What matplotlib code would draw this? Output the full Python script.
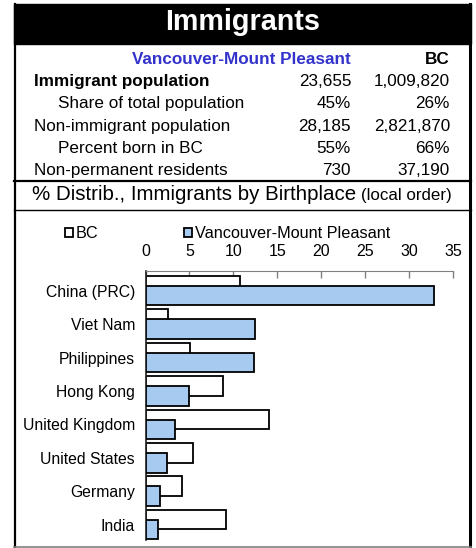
import matplotlib.pyplot as plt
from matplotlib.lines import Line2D
from matplotlib.patches import Rectangle

plt.rcParams['font.family'] = ['Liberation Sans', 'DejaVu Sans']

W, H = 476, 548

# table data
row_labels = ['Immigrant population', 'Share of total population',
              'Non-immigrant population', 'Percent born in BC',
              'Non-permanent residents']
local_vals = ['23,655', '45%', '28,185', '55%', '730']
bc_vals = ['1,009,820', '26%', '2,821,870', '66%', '37,190']
row_indent = [False, True, False, True, False]
row_bold = [True, False, False, False, False]

# chart data (% of immigrants, by birthplace)
countries = ['China (PRC)', 'Viet Nam', 'Philippines', 'Hong Kong',
             'United Kingdom', 'United States', 'Germany', 'India']
bc_pct = [10.7, 2.6, 5.1, 8.8, 14.0, 5.4, 4.1, 9.2]
local_pct = [32.8, 12.5, 12.4, 4.9, 3.4, 2.5, 1.7, 1.4]


def fx(px):
    return px / W


def fy(py):
    return 1 - py / H


fig = plt.figure(figsize=(W / 100, H / 100), dpi=100)

# frame and title bar
fig.patches.append(Rectangle((fx(14), fy(43.5)), fx(471) - fx(14), fy(4) - fy(43.5),
                             transform=fig.transFigure, color='black', zorder=0))
fig.lines.append(Line2D([fx(15), fx(15)], [fy(4), fy(547)], color='black', lw=1.6,
                        transform=fig.transFigure))
fig.lines.append(Line2D([fx(470), fx(470)], [fy(4), fy(547)], color='black', lw=2.2,
                        transform=fig.transFigure))
fig.lines.append(Line2D([fx(14), fx(471)], [fy(180.5), fy(180.5)], color='black', lw=1.6,
                        transform=fig.transFigure))
fig.lines.append(Line2D([fx(14), fx(471)], [fy(209.5), fy(209.5)], color='black', lw=1.0,
                        transform=fig.transFigure))
fig.lines.append(Line2D([fx(14), fx(471)], [fy(546.5), fy(546.5)], color='#808080', lw=1.2,
                        transform=fig.transFigure))

fig.text(fx(243), fy(30), 'Immigrants', color='white', fontsize=20.7,
         fontweight='bold', ha='center', va='baseline')

# table
fig.text(fx(351), fy(63.5), 'Vancouver-Mount Pleasant', color='#3333CC',
         fontsize=12.3, fontweight='bold', ha='right', va='baseline')
fig.text(fx(450), fy(63.5), 'BC', fontsize=12.3, fontweight='bold',
         ha='right', va='baseline')
for i, lab in enumerate(row_labels):
    yb = 86 + i * 22.3
    fig.text(fx(58 if row_indent[i] else 34), fy(yb), lab, fontsize=12.3,
             fontweight='bold' if row_bold[i] else 'normal', va='baseline')
    fig.text(fx(351), fy(yb), local_vals[i], fontsize=12.3, ha='right', va='baseline')
    fig.text(fx(450), fy(yb), bc_vals[i], fontsize=12.3, ha='right', va='baseline')

fig.text(fx(31.5), fy(200), '% Distrib., Immigrants by Birthplace', fontsize=14.8,
         va='baseline')
fig.text(fx(451.5), fy(200), '(local order)', fontsize=12.2, ha='right', va='baseline')

# bar chart
ax = fig.add_axes([fx(145.5), fy(540), fx(453) - fx(145.5), fy(271) - fy(540)])
pos = list(range(len(countries)))
h = 0.584
b1 = ax.barh([p - 0.15 for p in pos], bc_pct, height=h, color='white',
             edgecolor='black', linewidth=1.3, label='BC', zorder=2)
b2 = ax.barh([p + 0.15 for p in pos], local_pct, height=h, color='#A6CAF0',
             edgecolor='black', linewidth=1.3, label='Vancouver-Mount Pleasant', zorder=3)
ax.set_xlim(0, 35)
ax.set_ylim(7.46, -0.59)
ax.set_xticks(range(0, 36, 5))
ax.set_yticks(pos)
ax.set_yticklabels(countries)
ax.xaxis.tick_top()
ax.tick_params(axis='x', direction='in', length=5, width=1, color='#808080',
               pad=8.7, labelsize=11.5)
ax.tick_params(axis='y', length=0, pad=7.5, labelsize=11.3)
for s in ['right', 'bottom']:
    ax.spines[s].set_visible(False)
ax.spines['top'].set_color('#808080')
ax.spines['left'].set_color('#202020')
ax.spines['left'].set_linewidth(1.2)
ax.patch.set_alpha(0)

fig.legend(handles=[b1, b2], loc='center left', bbox_to_anchor=(fx(65), fy(233.5)),
           ncol=2, frameon=False, fontsize=11.7, handlelength=0.5, handleheight=0.5,
           handletextpad=0.15, columnspacing=5.3, borderpad=0, borderaxespad=0)

fig.savefig('out.png', dpi=100)
